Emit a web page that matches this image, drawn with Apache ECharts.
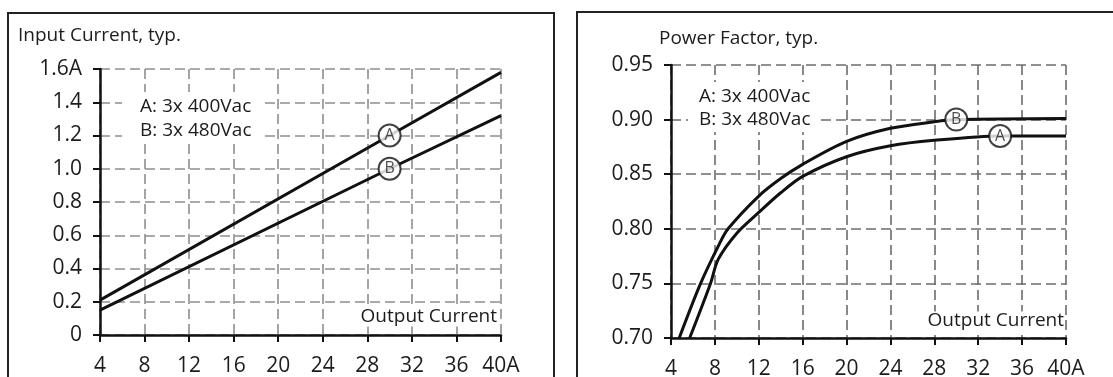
<!DOCTYPE html>
<html>
<head>
<meta charset="utf-8">
<script src="https://cdn.jsdelivr.net/npm/echarts@6/dist/echarts.min.js"></script>
<style>
  html, body { margin: 0; padding: 0; background: #fff; }
  #chart { width: 1113px; height: 377px; }
</style>
</head>
<body>
<div id="chart"></div>
<script>
// Input current vs. output current (straight lines, A = 3x 400Vac, B = 3x 480Vac)
const inputCurrentA = [[4, 0.21], [30, 1.20], [40, 1.58]];
const inputCurrentB = [[4, 0.15], [30, 1.00], [40, 1.32]];

// Power factor vs. output current
const powerFactorA = [[5.7, 0.70], [7.6, 0.75], [8.3, 0.772], [10, 0.796], [12, 0.815], [14, 0.833],
  [16, 0.848], [20, 0.866], [24, 0.876], [28, 0.881], [34, 0.885], [40, 0.885]];
const powerFactorB = [[4.75, 0.70], [6.7, 0.75], [8.4, 0.786], [9.2, 0.80], [12, 0.83], [14, 0.846],
  [16, 0.859], [20, 0.880], [24, 0.892], [28, 0.898], [30, 0.900], [40, 0.901]];

// where the circled curve letters sit (x value on each curve)
const inputTagX = { A: 30, B: 30 };
const pfTagX = { A: 34, B: 30 };

// axis ranges and texts
const xRange = [4, 40, 4];
const inputRange = [0, 1.6, 0.2];
const pfRange = [0.70, 0.95, 0.05];
const titles = ['Input Current, typ.', 'Power Factor, typ.'];
const legendLines = ['A: 3x 400Vac', 'B: 3x 480Vac'];
const xName = 'Output Current';

const FONT = '"Open Sans", "DejaVu Sans", sans-serif';
const TXT = '#1c1c1c';

function pointAt(series, x) { return series.find(p => p[0] === x); }

function xAxisCfg(gridIndex, gridColor) {
  return {
    type: 'value', gridIndex, min: xRange[0], max: xRange[1], interval: xRange[2],
    axisLine: { onZero: false, lineStyle: { color: '#111', width: 2.5 } },
    axisTick: { length: 7, lineStyle: { color: '#111', width: 2 } },
    axisLabel: { margin: 21, fontSize: 21, fontFamily: FONT, color: TXT,
      formatter: v => v === xRange[1] ? v + 'A' : String(v) },
    splitLine: { show: true, lineStyle: { color: gridColor, width: 1.6, type: [10, 5] } }
  };
}

function yAxisCfg(gridIndex, range, gridColor, fmt) {
  return {
    type: 'value', gridIndex, min: range[0], max: range[1], interval: range[2],
    axisLine: { onZero: false, lineStyle: { color: '#111', width: 2.5 } },
    axisTick: { length: 7, lineStyle: { color: '#111', width: 2 } },
    axisLabel: { margin: 18, fontSize: 21, fontFamily: FONT, color: TXT, formatter: fmt },
    splitLine: { show: true, lineStyle: { color: gridColor, width: 1.6, type: [10, 5] } }
  };
}

function curve(data, xi, smooth) {
  return {
    type: 'line', xAxisIndex: xi, yAxisIndex: xi, data, showSymbol: false, symbol: 'none',
    smooth: smooth, clip: true, z: 3,
    lineStyle: { color: '#111', width: 3 }
  };
}

function tag(point, letter, xi) {
  return {
    type: 'scatter', xAxisIndex: xi, yAxisIndex: xi, data: [point], z: 5,
    symbol: 'circle', symbolSize: 22,
    itemStyle: { color: '#fff', borderColor: '#111', borderWidth: 2 },
    label: { show: true, position: 'inside', formatter: letter, fontSize: 16,
      fontFamily: FONT, color: '#222' }
  };
}

function text(x, y, str, align, bg) {
  const style = { x, y, text: str, fontSize: 19, fontFamily: FONT, fill: TXT,
    align: align || 'left', verticalAlign: 'middle' };
  if (bg) { style.backgroundColor = '#fff'; style.padding = [0, 0, 0, 3]; }
  return { type: 'text', z: 20, style };
}

const chart = echarts.init(document.getElementById('chart'), null, { renderer: 'canvas' });

chart.setOption({
  animation: false,
  backgroundColor: '#fff',
  grid: [
    { left: 100, top: 69, width: 401, height: 266, outerBoundsMode: 'none', containLabel: false },
    { left: 671, top: 65, width: 395, height: 273, outerBoundsMode: 'none', containLabel: false }
  ],
  xAxis: [xAxisCfg(0, '#8e8e8e'), xAxisCfg(1, '#6c6c6c')],
  yAxis: [
    yAxisCfg(0, inputRange, '#8e8e8e', v => v === inputRange[1] ? v.toFixed(1) + 'A' : (v === 0 ? '0' : v.toFixed(1))),
    yAxisCfg(1, pfRange, '#6c6c6c', v => v.toFixed(2))
  ],
  series: [
    curve(inputCurrentA, 0, false),
    curve(inputCurrentB, 0, false),
    curve(powerFactorA, 1, 0.3),
    curve(powerFactorB, 1, 0.3),
    tag(pointAt(inputCurrentA, inputTagX.A), 'A', 0),
    tag(pointAt(inputCurrentB, inputTagX.B), 'B', 0),
    tag(pointAt(powerFactorA, pfTagX.A), 'A', 1),
    tag(pointAt(powerFactorB, pfTagX.B), 'B', 1)
  ],
  graphic: [
    // panel frames
    { type: 'rect', z: 1, shape: { x: 8, y: 13, width: 546, height: 420 },
      style: { fill: null, stroke: '#222', lineWidth: 2 } },
    { type: 'rect', z: 1, shape: { x: 577, y: 12, width: 600, height: 420 },
      style: { fill: null, stroke: '#222', lineWidth: 2 } },
    // legend backdrops
    { type: 'rect', z: 15, shape: { x: 122, y: 92, width: 138, height: 52 }, style: { fill: '#fff' } },
    { type: 'rect', z: 15, shape: { x: 688, y: 82, width: 130, height: 50 }, style: { fill: '#fff' } },
    text(18, 36, titles[0]),
    text(659, 39, titles[1]),
    text(140, 107, legendLines[0]),
    text(140, 131, legendLines[1]),
    text(699, 97, legendLines[0]),
    text(699, 120, legendLines[1]),
    text(497, 317, xName, 'right', true),
    text(1064, 321, xName, 'right', true)
  ]
});
</script>
</body>
</html>
